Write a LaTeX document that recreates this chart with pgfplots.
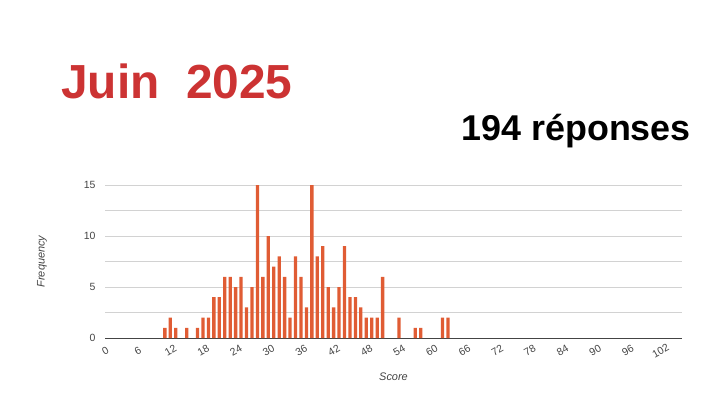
\documentclass[border=0pt]{standalone}
\usepackage{pgfplots}
\pgfplotsset{compat=1.18}
\usepackage{fontspec}
\setmainfont{Liberation Sans}
\definecolor{barc}{RGB}{224,92,52}
\definecolor{titlered}{RGB}{204,51,51}
\definecolor{gridc}{RGB}{210,210,210}
\definecolor{labc}{RGB}{68,68,68}
\begin{document}
\begin{tikzpicture}[x=1bp,y=1bp]
\path[use as bounding box] (0,0) rectangle (719,405);
\node[anchor=base west,text=titlered,font=\fontsize{48}{48}\selectfont\bfseries,inner sep=0] at (61,307) {Juin\ \ 2025};
\node[anchor=base east,text=black,font=\fontsize{36}{36}\selectfont\bfseries,inner sep=0] at (691,265) {194 réponses};
\begin{axis}[
  at={(105bp,67bp)}, anchor=south west,
  scale only axis, width=577bp, height=153bp,
  xmin=0, xmax=106, ymin=0, ymax=15,
  axis x line*=bottom, axis y line*=left,
  x axis line style={draw=labc,line width=0.8pt},
  y axis line style={draw=none},
  ytick={0,5,10,15}, minor ytick={2.5,7.5,12.5},
  ymajorgrids, yminorgrids,
  major grid style={draw=gridc,line width=0.6pt},
  minor grid style={draw=gridc,line width=0.6pt},
  xtick={0,6,...,102},
  major tick length=0pt, minor tick length=0pt,
  /pgf/number format/assume math mode=true,
  tick label style={font=\fontsize{10.5}{10.5}\selectfont, text=labc},
  xticklabel style={rotate=30, anchor=center, xshift=-6bp, yshift=-11bp},
  yticklabel style={anchor=east, xshift=-6bp},
  ylabel={\itshape Frequency}, xlabel={\itshape Score},
  label style={font=\fontsize{11}{11}\selectfont, text=labc},
  xlabel style={at={(axis description cs:0.5,0)}, anchor=center, yshift=-39bp},
  ylabel style={at={(axis description cs:-0.109,0.5)}, anchor=center},
  clip=false,
]
\addplot[ybar, bar width=3.3bp, fill=barc, draw=none] coordinates {
(11,1) (12,2) (13,1) (15,1) (17,1) (18,2) (19,2) (20,4) (21,4) (22,6)
(23,6) (24,5) (25,6) (26,3) (27,5) (28,15) (29,6) (30,10) (31,7) (32,8)
(33,6) (34,2) (35,8) (36,6) (37,3) (38,15) (39,8) (40,9) (41,5) (42,3)
(43,5) (44,9) (45,4) (46,4) (47,3) (48,2) (49,2) (50,2) (51,6) (54,2)
(57,1) (58,1) (62,2) (63,2)
};
\end{axis}
\end{tikzpicture}
\end{document}
